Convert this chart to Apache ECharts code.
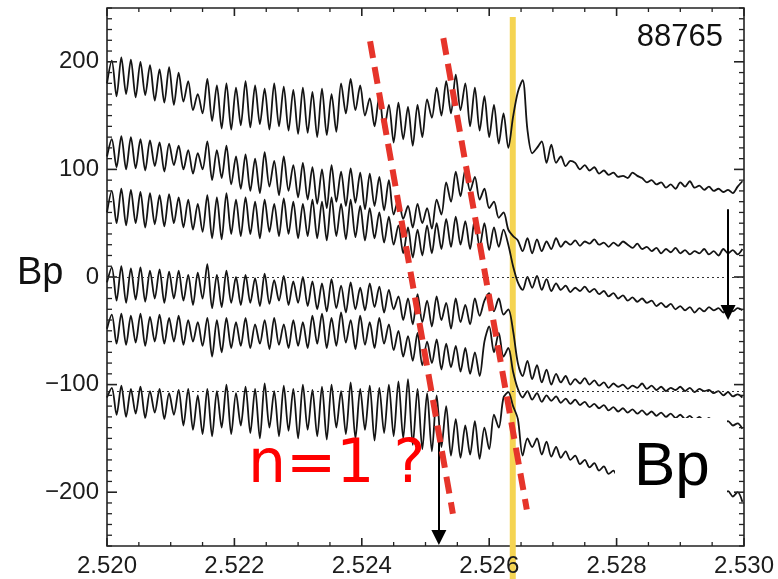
<!DOCTYPE html>
<html>
<head>
<meta charset="utf-8">
<script src="https://cdn.jsdelivr.net/npm/echarts@6/dist/echarts.min.js"></script>
<style>
  html, body { margin: 0; padding: 0; background: #ffffff; }
  #chart { width: 778px; height: 579px; }
</style>
</head>
<body>
<div id="chart"></div>
<script>
// ---- axes ----
const X_MIN = 2.520, X_MAX = 2.530, X_STEP = 0.002, X_MINOR_STEP = 0.0005;
const Y_MIN = -250, Y_MAX = 250, Y_STEP = 100, Y_MINOR_STEP = 10;
const Y_LABELS = [-200, -100, 0, 100, 200];

// ---- sampling of the probe signals ----
const T0 = 2.520;        // first sample time
const DT = 0.000075;     // sample spacing

// Bp probe signals (offset traces), one value per sample
const probe1 = [
  180, 201, 168, 204, 170, 202, 167, 200, 169, 197,
  164, 193, 162, 195, 160, 190, 163, 182, 155, 170,
  152, 184, 145, 178, 138, 180, 137, 176, 141, 182,
  139, 178, 142, 175, 137, 180, 140, 177, 136, 174,
  133, 176, 134, 172, 130, 175, 132, 170, 135, 180,
  152, 184, 155, 178, 150, 166, 140, 168, 137, 160,
  125, 162, 128, 158, 122, 160, 130, 165, 148, 176,
  150, 182, 152, 188, 155, 180, 140, 176, 136, 168,
  130, 160, 124, 152, 120, 149, 172, 183, 137, 115,
  120, 126, 106, 123, 106, 112, 103, 108, 106, 100,
  104, 99, 102, 96, 99, 95, 97, 93, 94, 92,
  97, 94, 92, 88, 90, 86, 88, 83, 86, 82,
  88, 84, 89, 83, 85, 81, 84, 80, 82, 79,
  81, 78, 84, 89
];
const probe2 = [
  112, 128, 102, 131, 100, 130, 101, 128, 99, 127,
  103, 125, 98, 124, 104, 122, 100, 118, 96, 115,
  100, 126, 90, 118, 92, 122, 86, 112, 82, 114,
  80, 110, 78, 116, 84, 108, 76, 112, 80, 104,
  74, 106, 72, 102, 68, 100, 64, 104, 70, 98,
  66, 101, 69, 97, 63, 96, 66, 93, 62, 90,
  58, 72, 54, 66, 46, 68, 50, 64, 45, 72,
  58, 88, 70, 98, 75, 100, 80, 93, 72, 82,
  64, 70, 55, 60, 44, 38, 34, 24, 36, 22,
  35, 24, 33, 26, 36, 28, 33, 30, 34, 29,
  33, 31, 35, 30, 32, 28, 32, 29, 33, 30,
  27, 31, 26, 28, 24, 27, 22, 26, 23, 27,
  22, 25, 21, 24, 22, 26, 21, 24, 20, 26,
  22, 25, 21, 26
];
const probe3 = [
  60, 80, 50, 82, 48, 81, 50, 79, 46, 78,
  49, 76, 47, 77, 50, 74, 46, 72, 44, 68,
  42, 76, 36, 74, 35, 78, 40, 72, 38, 74,
  40, 70, 36, 72, 42, 68, 38, 73, 40, 70,
  36, 68, 38, 72, 36, 70, 34, 74, 38, 68,
  35, 72, 37, 66, 34, 64, 36, 60, 32, 56,
  30, 48, 22, 46, 18, 44, 20, 48, 22, 50,
  26, 54, 28, 56, 30, 52, 26, 54, 28, 50,
  25, 46, 28, 44, 30, 10, -5, -12, 0, -10,
  1, -12, -2, -13, -6, -12, -8, -14, -10, -13,
  -9, -14, -11, -16, -13, -18, -15, -20, -17, -22,
  -19, -23, -20, -24, -22, -27, -24, -28, -25, -30,
  -27, -31, -28, -33, -29, -32, -28, -31, -29, -33,
  -28, -32, -29, -31
];
const probe4 = [
  -5, 9, -22, 10, -24, 8, -21, 9, -23, 6,
  -20, 7, -24, 5, -20, 6, -22, 2, -26, 4,
  -20, 12, -29, 2, -28, 6, -24, 0, -26, 2,
  -24, -1, -27, 3, -25, -3, -22, 1, -26, -4,
  -24, 0, -27, -4, -30, -6, -32, -2, -29, -8,
  -33, -5, -30, -10, -31, -6, -28, -9, -33, -12,
  -30, -18, -40, -20, -44, -16, -42, -22, -46, -18,
  -40, -24, -48, -20, -42, -26, -44, -20, -36, -22,
  -15, -32, -20, -35, -30, -50, -80, -92, -78, -95,
  -82, -98, -86, -100, -90, -98, -92, -100, -95, -99,
  -94, -100, -96, -101, -98, -103, -99, -102, -100, -104,
  -101, -103, -99, -104, -101, -105, -102, -106, -103, -105,
  -102, -106, -103, -107, -104, -106, -105, -108, -106, -110,
  -107, -111, -109, -112
];
const probe5 = [
  -48, -35, -62, -34, -63, -36, -61, -34, -64, -37,
  -60, -35, -62, -38, -60, -36, -63, -40, -60, -42,
  -64, -38, -74, -40, -70, -38, -66, -42, -64, -38,
  -66, -44, -62, -40, -67, -38, -63, -44, -66, -40,
  -64, -42, -66, -36, -62, -34, -66, -38, -64, -33,
  -61, -40, -67, -36, -63, -42, -66, -38, -62, -44,
  -68, -50, -74, -55, -78, -52, -82, -60, -80, -58,
  -86, -62, -84, -64, -88, -66, -90, -70, -92, -60,
  -46, -70, -52, -74, -66, -88, -104, -112, -106, -114,
  -108, -116, -110, -115, -111, -117, -113, -118, -114, -119,
  -116, -121, -118, -122, -119, -124, -121, -125, -122, -126,
  -123, -127, -124, -128, -125, -129, -126, -130, -127, -131,
  -128, -132, -129, -133, -130, -134, -131, -135, -132, -136,
  -134, -138, -136, -141
];
const probe6 = [
  -112, -103, -128, -101, -130, -104, -127, -102, -131, -106,
  -126, -104, -132, -108, -128, -105, -138, -104, -142, -110,
  -146, -104, -148, -106, -140, -100, -146, -108, -138, -102,
  -145, -104, -150, -99, -140, -106, -148, -101, -143, -104,
  -150, -100, -142, -105, -148, -102, -151, -100, -140, -106,
  -146, -98, -150, -104, -142, -101, -152, -103, -145, -100,
  -148, -97, -150, -95, -156, -104, -160, -108, -162, -110,
  -158, -120, -166, -132, -168, -138, -165, -134, -169, -140,
  -160, -128, -140, -112, -107, -120, -132, -166, -150, -158,
  -150, -165, -153, -167, -158, -168, -162, -170, -166, -174,
  -170, -177, -173, -180, -176, -183, -180, -186, -183, -188,
  -185, -190, -188, -192, -189, -194, -191, -195, -193, -197,
  -194, -198, -195, -199, -196, -200, -197, -201, -198, -202,
  -199, -204, -200, -209
];
const probes = [probe1, probe2, probe3, probe4, probe5, probe6];

// dotted reference levels
const GUIDE_LEVELS = [0, -106];

// time of the crash (highlighted band)
const CRASH_T = 2.52637;

// slanted phase lines (n=1 mode), endpoints in data units
const phaseLineA_t = [2.52413, 2.52543];
const phaseLineA_v = [219, -220];
const phaseLineB_t = [2.52528, 2.52659];
const phaseLineB_v = [222, -216];

// arrows: time, start value, end value (arrow head centre)
const arrow_t = [2.52521, 2.52975];
const arrow_from = [-144, 63];
const arrow_to = [-242, -33];

// ---- chart ----
const sampleTimes = probe1.map((_, i) => +(T0 + i * DT).toFixed(6));

const axisColor = '#222222';
const tickFont = {
  fontFamily: '"Liberation Sans", Arial, Helvetica, sans-serif',
  fontSize: 24,
  color: '#1c1c1c'
};

const series = [];

// dotted reference levels
series.push({
  type: 'line', data: [], z: 1, silent: true,
  markLine: {
    silent: true, symbol: 'none', animation: false,
    label: { show: false },
    lineStyle: { color: '#333333', width: 1, type: [2, 3] },
    data: GUIDE_LEVELS.map(v => ({ yAxis: v }))
  }
});

probes.forEach((vals, k) => {
  series.push({
    name: 'probe' + (k + 1),
    type: 'line',
    data: vals.map((v, i) => [sampleTimes[i], v]),
    symbol: 'none', showSymbol: false,
    smooth: 0.3,
    silent: true, z: 2,
    lineStyle: { color: '#141414', width: 1.8 }
  });
});

[[phaseLineA_t, phaseLineA_v], [phaseLineB_t, phaseLineB_v]].forEach(([ts, vs]) => {
  series.push({
    type: 'line',
    data: ts.map((t, i) => [t, vs[i]]),
    symbol: 'none', silent: true, z: 5,
    lineStyle: { color: '#E6342A', width: 6, type: [17, 9], cap: 'butt' }
  });
});

series.push({
  type: 'line', data: [], z: 6, silent: true,
  markLine: {
    silent: true, animation: false,
    symbol: ['none', 'triangle'], symbolSize: [15, 15],
    label: { show: false },
    lineStyle: { color: '#000000', width: 2, type: 'solid' },
    itemStyle: { color: '#000000' },
    data: arrow_t.map((t, i) => [{ coord: [t, arrow_from[i]] }, { coord: [t, arrow_to[i]] }])
  }
});

const chart = echarts.init(document.getElementById('chart'), null, { renderer: 'canvas' });
chart.setOption({
  animation: false,
  backgroundColor: '#ffffff',
  grid: {
    left: 107, right: 34, top: 8, bottom: 33, containLabel: false,
    show: true, borderColor: axisColor, borderWidth: 1.6, backgroundColor: 'transparent'
  },
  xAxis: {
    type: 'value', min: X_MIN, max: X_MAX, interval: X_STEP, z: 4,
    axisLine: { show: false }, axisTick: { show: false }, splitLine: { show: false },
    axisLabel: Object.assign({ margin: 8, formatter: v => v.toFixed(3) }, tickFont)
  },
  yAxis: {
    type: 'value', min: Y_MIN, max: Y_MAX, interval: 50,
    axisLine: { show: false }, axisTick: { show: false }, splitLine: { show: false },
    axisLabel: Object.assign({
      margin: 8,
      formatter: v => (Y_LABELS.indexOf(v) >= 0 ? String(v).replace('-', '\u2212') : '')
    }, tickFont)
  },
  series: series
});

// ---- frame ticks and annotations, placed through the axes ----
const toPx = (x, y) => chart.convertToPixel({ xAxisIndex: 0, yAxisIndex: 0 }, [x, y]);
const graphics = [];

function tick(x, y, dx, dy, width) {
  const p = toPx(x, y);
  graphics.push({
    type: 'line', z: 3, silent: true,
    shape: { x1: p[0], y1: p[1], x2: p[0] + dx, y2: p[1] + dy },
    style: { stroke: axisColor, lineWidth: width }
  });
}
const nx = Math.round((X_MAX - X_MIN) / X_MINOR_STEP);
const xPerMajor = Math.round(X_STEP / X_MINOR_STEP);
for (let k = 0; k <= nx; k++) {
  const t = X_MIN + k * X_MINOR_STEP;
  const major = k % xPerMajor === 0;
  const len = major ? 8 : 4, w = major ? 1.6 : 1.3;
  tick(t, Y_MIN, 0, -len, w);
  tick(t, Y_MAX, 0, len, w);
}
const ny = Math.round((Y_MAX - Y_MIN) / Y_MINOR_STEP);
for (let k = 0; k <= ny; k++) {
  const v = Y_MIN + k * Y_MINOR_STEP;
  const major = Y_LABELS.indexOf(v) >= 0;
  const len = major ? 10 : 5, w = major ? 1.6 : 1.3;
  tick(X_MIN, v, len, 0, w);
  tick(X_MAX, v, -len, 0, w);
}

const crashX = chart.convertToPixel({ xAxisIndex: 0 }, CRASH_T);
const sansFont = '"Liberation Sans", Arial, Helvetica, sans-serif';
graphics.push(
  { type: 'rect', z: 1, silent: true,
    shape: { x: crashX - 3, y: 17, width: 6, height: 579 - 17 },
    style: { fill: '#F5D452' } },
  { type: 'text', z: 20, silent: true, x: 723, y: 37,
    style: { text: '88765', font: '31px ' + sansFont, fill: '#111111', align: 'right', verticalAlign: 'middle' } },
  { type: 'text', z: 20, silent: true, x: 17, y: 274,
    style: { text: 'Bp', font: '38px ' + sansFont, fill: '#111111', align: 'left', verticalAlign: 'middle' } },
  { type: 'text', z: 20, silent: true, x: 248, y: 466,
    style: { text: 'n=1 ?', font: '60px "DejaVu Sans", Verdana, sans-serif', fill: '#FF0000', align: 'left', verticalAlign: 'middle' } },
  { type: 'rect', z: 15, silent: true,
    shape: { x: 615, y: 418, width: 112, height: 119 },
    style: { fill: '#ffffff' } },
  { type: 'text', z: 20, silent: true, x: 634, y: 468,
    style: { text: 'Bp', font: '62px ' + sansFont, fill: '#000000', align: 'left', verticalAlign: 'middle' } }
);

chart.setOption({ graphic: graphics });
</script>
</body>
</html>
